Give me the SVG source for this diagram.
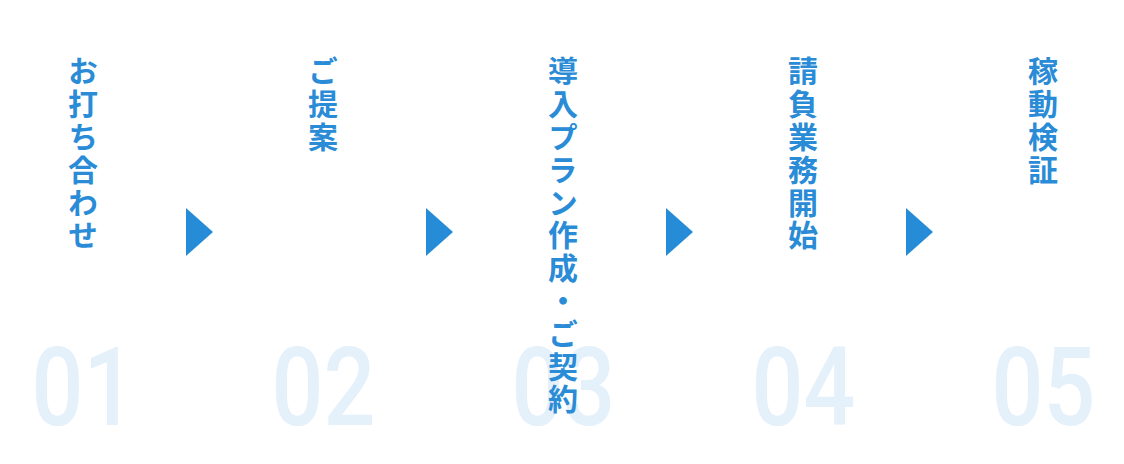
<svg xmlns="http://www.w3.org/2000/svg" width="1124" height="464" viewBox="0 0 1124 464">
<style>
.num{font-family:Roboto,"Liberation Sans",sans-serif;font-weight:500;font-size:110px;fill:#e4f0fa;}
.lbl{font-family:"Noto Sans CJK JP","Noto Sans",sans-serif;font-weight:700;font-size:30px;fill:#2a8bd6;writing-mode:vertical-rl;letter-spacing:2.8px;}
.arr{fill:#268cd8;}
</style>
<rect width="1124" height="464" fill="#ffffff"/>
<g id="step1">
<text class="num" transform="translate(31.5,425) scale(0.83,1)">01</text>
<text class="lbl" x="83" y="56">お打ち合わせ</text>
</g>
<g id="step2">
<text class="num" transform="translate(271.5,425) scale(0.83,1)">02</text>
<text class="lbl" x="323" y="56">ご提案</text>
</g>
<g id="step3">
<text class="num" transform="translate(511.5,425) scale(0.83,1)">03</text>
<text class="lbl" x="563" y="56">導入プラン作成・ご契約</text>
</g>
<g id="step4">
<text class="num" transform="translate(751.5,425) scale(0.83,1)">04</text>
<text class="lbl" x="803" y="56">請負業務開始</text>
</g>
<g id="step5">
<text class="num" transform="translate(991.5,425) scale(0.83,1)">05</text>
<text class="lbl" x="1043" y="56">稼動検証</text>
</g>
<g id="connectors">
<polygon class="arr" points="186,208 213,232 186,256"/>
<polygon class="arr" points="426,208 453,232 426,256"/>
<polygon class="arr" points="666,208 693,232 666,256"/>
<polygon class="arr" points="906,208 933,232 906,256"/>
</g>
</svg>
